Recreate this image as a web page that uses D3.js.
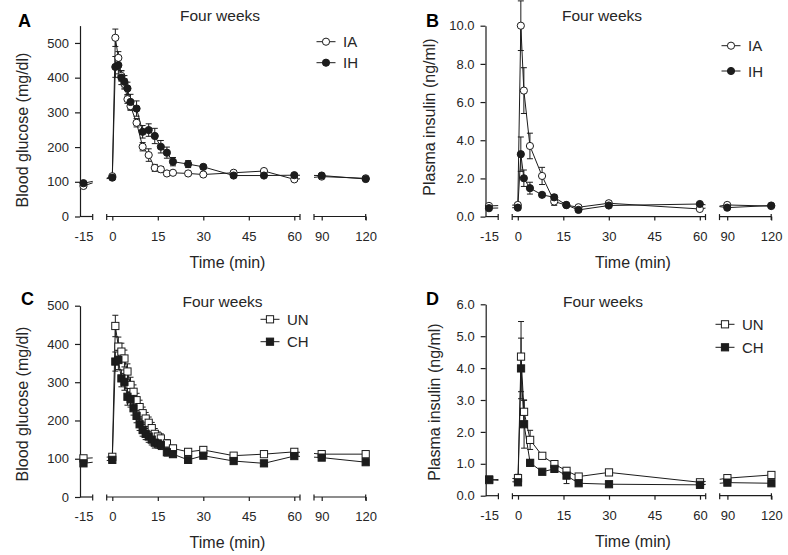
<!DOCTYPE html>
<html>
<head>
<meta charset="utf-8">
<script src="https://cdn.jsdelivr.net/npm/d3@7"></script>
<style>
  body { margin: 0; background: #fff; }
  svg { display: block; }
</style>
</head>
<body>
<div id="chart"></div>
<script>
// Four weeks - glucose / insulin tolerance panels

// A: blood glucose, IA vs IH
const timesA = [-15, 0, 1, 2, 3, 4, 5, 6, 8, 10, 12, 14, 16, 18, 20, 25, 30, 40, 50, 60, 90, 120];
const glucoseIA = [88, 116, 515, 457, 405, 382, 338, 318, 270, 201, 177, 140, 136, 124, 126, 124, 121, 126, 131, 107, 115, 110];
const glucoseIAErr = [5, 5, 25, 18, 15, 15, 12, 12, 12, 12, 18, 10, 8, 6, 6, 6, 6, 5, 5, 6, 5, 5];
const glucoseIH = [96, 112, 431, 436, 400, 388, 369, 330, 311, 244, 249, 232, 201, 184, 158, 151, 143, 118, 118, 119, 118, 108];
const glucoseIHErr = [5, 5, 30, 25, 20, 18, 18, 22, 22, 18, 18, 22, 18, 16, 12, 10, 6, 5, 5, 5, 5, 4];

// B: plasma insulin, IA vs IH
const timesB = [-15, 0, 1, 2, 4, 8, 12, 16, 20, 30, 60, 90, 120];
const insulinIA = [0.56, 0.61, 10.0, 6.6, 3.7, 2.13, 0.79, 0.6, 0.49, 0.70, 0.40, 0.61, 0.55];
const insulinIAErr = [0.05, 0.1, 1.3, 1.2, 0.67, 0.45, 0.2, 0.08, 0.06, 0.1, 0.06, 0.06, 0.05];
const insulinIH = [0.44, 0.47, 3.27, 2.01, 1.49, 1.14, 1.01, 0.61, 0.35, 0.58, 0.66, 0.47, 0.58];
const insulinIHErr = [0.06, 0.06, 0.9, 0.43, 0.31, 0.1, 0.15, 0.08, 0.06, 0.06, 0.06, 0.06, 0.05];

// C: blood glucose, UN vs CH
const timesC = [-15, 0, 1, 2, 3, 4, 5, 6, 7, 8, 9, 10, 11, 12, 13, 14, 15, 16, 18, 20, 25, 30, 40, 50, 60, 90, 120];
const glucoseUN = [101, 105, 447, 393, 380, 362, 328, 293, 275, 253, 235, 219, 205, 194, 180, 165, 158, 153, 140, 127, 118, 123, 108, 112, 118, 112, 112];
const glucoseUNErr = [6, 6, 28, 25, 22, 22, 20, 20, 18, 18, 18, 16, 16, 15, 15, 14, 12, 12, 10, 8, 8, 8, 6, 6, 6, 6, 6];
const glucoseCH = [88, 97, 354, 358, 310, 301, 262, 255, 232, 212, 190, 175, 165, 158, 150, 142, 140, 136, 117, 112, 97, 108, 94, 88, 107, 103, 91];
const glucoseCHErr = [6, 6, 25, 25, 22, 22, 22, 20, 18, 18, 16, 16, 15, 15, 14, 14, 12, 12, 10, 8, 6, 6, 6, 6, 6, 6, 6];

// D: plasma insulin, UN vs CH
const timesD = [-15, 0, 1, 2, 4, 8, 12, 16, 20, 30, 60, 90, 120];
const insulinUN = [0.49, 0.55, 4.36, 2.63, 1.75, 1.25, 0.99, 0.78, 0.60, 0.73, 0.42, 0.55, 0.65];
const insulinUNErr = [0.1, 0.12, 1.1, 0.37, 0.3, 0.05, 0.06, 0.08, 0.05, 0.05, 0.04, 0.04, 0.04];
const insulinCH = [0.51, 0.42, 3.99, 2.24, 1.03, 0.75, 0.84, 0.63, 0.39, 0.36, 0.34, 0.41, 0.39];
const insulinCHErr = [0.08, 0.06, 0.95, 0.75, 0.1, 0.06, 0.08, 0.25, 0.05, 0.04, 0.04, 0.04, 0.04];

// axis ticks
const xTicks = [[-15], [0, 15, 30, 45, 60], [90, 120]];
const glucoseTicks = [0, 100, 200, 300, 400, 500];
const insulinTicksB = [0, 2, 4, 6, 8, 10];
const insulinTicksD = [0, 1, 2, 3, 4, 5, 6];

const width = 788;
const height = 555;
const ink = '#1c1c1c';
const textInk = '#262626';
const font = '"Liberation Sans", Arial, Helvetica, sans-serif';

const svg = d3.select('#chart')
  .append('svg')
  .attr('width', width)
  .attr('height', height)
  .style('font-family', font)
  .style('background', '#fff');

const defs = svg.append('defs');

const panels = [
  {
    id: 'A', left: 80, top: 25.6, bottom: 216.5, yMax: 550, yTicks: glucoseTicks, fmt: d3.format('d'),
    yTitle: 'Blood glucose (mg/dl)', yTitlePos: [22, 130], letterPos: [18, 27], titlePos: [220, 21],
    xTitleX: 227.5, legendX: 326, legendY: [41.7, 62.7], marker: 'circle', times: timesA,
    series: [
      { name: 'IA', values: glucoseIA, err: glucoseIAErr, filled: false },
      { name: 'IH', values: glucoseIH, err: glucoseIHErr, filled: true }
    ]
  },
  {
    id: 'B', left: 485.5, top: 25.7, bottom: 216.6, yMax: 10, yTicks: insulinTicksB, fmt: d3.format('.1f'),
    yTitle: 'Plasma insulin (ng/ml)', yTitlePos: [429, 117], letterPos: [426, 27], titlePos: [602, 21],
    xTitleX: 633, legendX: 731, legendY: [45.7, 71], marker: 'circle', times: timesB,
    series: [
      { name: 'IA', values: insulinIA, err: insulinIAErr, filled: false },
      { name: 'IH', values: insulinIH, err: insulinIHErr, filled: true }
    ]
  },
  {
    id: 'C', left: 80, top: 305.7, bottom: 497, yMax: 500, yTicks: glucoseTicks, fmt: d3.format('d'),
    yTitle: 'Blood glucose (mg/dl)', yTitlePos: [22, 404], letterPos: [21, 305], titlePos: [222.5, 307],
    xTitleX: 227.5, legendX: 270, legendY: [319.3, 341.7], marker: 'square', times: timesC,
    series: [
      { name: 'UN', values: glucoseUN, err: glucoseUNErr, filled: false },
      { name: 'CH', values: glucoseCH, err: glucoseCHErr, filled: true }
    ]
  },
  {
    id: 'D', left: 485.7, top: 304.3, bottom: 495.7, yMax: 6, yTicks: insulinTicksD, fmt: d3.format('.1f'),
    yTitle: 'Plasma insulin (ng/ml)', yTitlePos: [434, 402], letterPos: [426, 305], titlePos: [603, 307],
    xTitleX: 633, legendX: 725, legendY: [324.3, 347.3], marker: 'square', times: timesD,
    series: [
      { name: 'UN', values: insulinUN, err: insulinUNErr, filled: false },
      { name: 'CH', values: insulinCH, err: insulinCHErr, filled: true }
    ]
  }
];

function drawMarker(sel, kind, cx, cy, filled) {
  if (kind === 'circle') {
    sel.append('circle')
      .attr('cx', cx).attr('cy', cy).attr('r', 3.6)
      .attr('fill', filled ? ink : '#fff')
      .attr('stroke', ink).attr('stroke-width', 1);
  } else {
    sel.append('rect')
      .attr('x', cx - 3.6).attr('y', cy - 3.6)
      .attr('width', 7.2).attr('height', 7.2)
      .attr('fill', filled ? ink : '#fff')
      .attr('stroke', ink).attr('stroke-width', 1);
  }
}

function drawPanel(p) {
  const g = svg.append('g').attr('class', 'panel-' + p.id);
  const L = p.left;

  // broken time axis: three segments sharing one px/min rate
  const seg1 = d3.scaleLinear().domain([-16.5, -11]).range([L, L + 12.7]);
  const seg2 = d3.scaleLinear().domain([0, 60]).range([L + 32.3, L + 214.3]);
  const seg3 = d3.scaleLinear().domain([90, 120]).range([L + 241.7, L + 285.7]);
  const segs = [
    { scale: seg1, x0: L, x1: L + 12.7, ticks: xTicks[0] },
    { scale: seg2, x0: L + 26.7, x1: L + 220, ticks: xTicks[1] },
    { scale: seg3, x0: L + 234, x1: L + 285.7, ticks: xTicks[2] }
  ];
  const x = t => (t < -5 ? seg1(t) : t <= 70 ? seg2(t) : seg3(t));
  const y = d3.scaleLinear().domain([0, p.yMax]).range([p.bottom, p.top]);
  const axisY = p.bottom;

  // clip regions for the connecting lines
  segs.forEach((s, k) => {
    defs.append('clipPath').attr('id', `clip-${p.id}-${k}`)
      .append('rect')
      .attr('x', s.x0).attr('y', 0)
      .attr('width', s.x1 - s.x0).attr('height', height);
  });

  // y axis
  const yAxis = g.append('g')
    .attr('transform', `translate(${L},0)`)
    .call(d3.axisLeft(y).tickValues(p.yTicks).tickFormat(p.fmt).tickSize(5).tickSizeOuter(0).tickPadding(6));
  yAxis.select('.domain').attr('stroke', ink).attr('stroke-width', 1.2);
  yAxis.selectAll('.tick line').attr('stroke', ink).attr('stroke-width', 1.2);
  yAxis.selectAll('.tick text').attr('fill', textInk).style('font-size', '13px').style('font-family', font);

  // x axis segments (plain hyphen for the negative label, as in the original)
  segs.forEach((s, k) => {
    const ax = g.append('g')
      .attr('transform', `translate(0,${axisY})`)
      .call(d3.axisBottom(s.scale).tickValues(s.ticks).tickFormat(d => String(d))
        .tickSize(4).tickSizeOuter(0).tickPadding(11));
    ax.select('.domain').remove();
    if (k === 0) ax.selectAll('.tick line').remove();
    ax.selectAll('.tick line').attr('stroke', ink).attr('stroke-width', 1.2);
    ax.selectAll('.tick text').attr('fill', textInk).style('font-size', '13px').style('font-family', font);

    g.append('line')
      .attr('x1', s.x0).attr('x2', s.x1)
      .attr('y1', axisY).attr('y2', axisY)
      .attr('stroke', ink).attr('stroke-width', 1.2);
    const caps = k === 0 ? [s.x1] : [s.x0, s.x1];
    caps.forEach(cx => {
      g.append('line')
        .attr('x1', cx).attr('x2', cx)
        .attr('y1', axisY - 2.5).attr('y2', axisY + 3.5)
        .attr('stroke', ink).attr('stroke-width', 1.2);
    });
  });

  // texts
  g.append('text')
    .attr('x', p.letterPos[0]).attr('y', p.letterPos[1])
    .attr('fill', '#000')
    .style('font-size', '18px').style('font-weight', 'bold')
    .text(p.id);

  g.append('text')
    .attr('x', p.titlePos[0]).attr('y', p.titlePos[1])
    .attr('text-anchor', 'middle')
    .attr('fill', textInk)
    .style('font-size', '15.5px')
    .text('Four weeks');

  g.append('text')
    .attr('x', p.xTitleX).attr('y', axisY + 51)
    .attr('text-anchor', 'middle')
    .attr('fill', textInk)
    .style('font-size', '16px')
    .text('Time (min)');

  g.append('text')
    .attr('transform', `translate(${p.yTitlePos[0]},${p.yTitlePos[1]}) rotate(-90)`)
    .attr('text-anchor', 'middle')
    .attr('dominant-baseline', 'central')
    .attr('fill', textInk)
    .style('font-size', '16px')
    .text(p.yTitle);

  // data
  const line = d3.line().x(d => x(d.t)).y(d => y(d.v));

  p.series.forEach(s => {
    const pts = p.times.map((t, i) => ({ t, v: s.values[i], e: s.err[i] }));

    // error bars
    const eb = g.append('g');
    pts.forEach(d => {
      const px = x(d.t);
      const hi = y(d.v + d.e);
      const lo = y(Math.max(0, d.v - d.e));
      eb.append('line')
        .attr('x1', px).attr('x2', px).attr('y1', hi).attr('y2', lo)
        .attr('stroke', ink).attr('stroke-width', 1);
      [hi, lo].forEach(cy => {
        eb.append('line')
          .attr('x1', px - 3).attr('x2', px + 3).attr('y1', cy).attr('y2', cy)
          .attr('stroke', ink).attr('stroke-width', 1);
      });
    });

    // connecting line, clipped into each axis segment
    segs.forEach((seg, k) => {
      g.append('path')
        .datum(pts)
        .attr('d', line)
        .attr('clip-path', `url(#clip-${p.id}-${k})`)
        .attr('fill', 'none')
        .attr('stroke', ink)
        .attr('stroke-width', 1);
    });
  });

  p.series.forEach(s => {
    const mg = g.append('g');
    p.times.forEach((t, i) => drawMarker(mg, p.marker, x(t), y(s.values[i]), s.filled));
  });

  // legend
  p.series.forEach((s, i) => {
    const ly = p.legendY[i];
    const lg = g.append('g');
    lg.append('line')
      .attr('x1', p.legendX - 9.5).attr('x2', p.legendX + 9.5)
      .attr('y1', ly).attr('y2', ly)
      .attr('stroke', ink).attr('stroke-width', 1);
    drawMarker(lg, p.marker, p.legendX, ly, s.filled);
    lg.append('text')
      .attr('x', p.legendX + 17).attr('y', ly)
      .attr('dominant-baseline', 'central')
      .attr('fill', textInk)
      .style('font-size', '15px')
      .text(s.name);
  });
}

panels.forEach(drawPanel);
</script>
</body>
</html>
